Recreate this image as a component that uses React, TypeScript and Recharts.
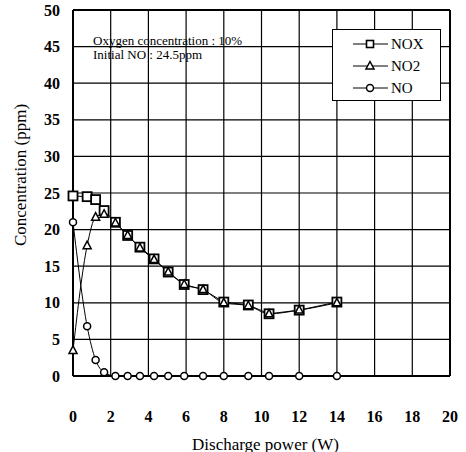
import React from 'react';
import { LineChart, Line, XAxis, YAxis, CartesianGrid, ReferenceLine, Label } from 'recharts';

// discharge power (W)
const POWER = [0, 0.75, 1.2, 1.65, 2.25, 2.9, 3.55, 4.3, 5.05, 5.9, 6.9, 8.0, 9.3, 10.4, 12.0, 14.0];
// concentrations (ppm)
const NOX = [24.6, 24.5, 24.1, 22.6, 21.0, 19.2, 17.6, 16.0, 14.2, 12.5, 11.8, 10.1, 9.7, 8.5, 9.0, 10.1];
const NO2 = [3.5, 17.8, 21.7, 22.1, 20.9, 19.2, 17.5, 15.9, 14.2, 12.5, 11.8, 10.0, 9.6, 8.5, 9.0, 10.0];
const NO = [21.0, 6.8, 2.2, 0.5, 0, 0, 0, 0, 0, 0, 0, 0, 0, 0, 0, 0];

const X_TICKS = [0, 2, 4, 6, 8, 10, 12, 14, 16, 18, 20];
const Y_TICKS = [0, 5, 10, 15, 20, 25, 30, 35, 40, 45, 50];

const data = POWER.map((p, i) => ({ power: p, nox: NOX[i], no2: NO2[i], no: NO[i] }));

const FONT = "'Liberation Serif', 'Times New Roman', Times, 'DejaVu Serif', serif";

const SquareDot = (props: any) => {
  const { cx, cy, index } = props;
  return <rect key={`sq-${index}`} x={cx - 4.5} y={cy - 4.5} width={9} height={9} fill="#fff" stroke="#000" strokeWidth={1.8} />;
};

const TriangleDot = (props: any) => {
  const { cx, cy, index } = props;
  return (
    <polygon
      key={`tr-${index}`}
      points={`${cx},${cy - 4.5} ${cx - 4},${cy + 3} ${cx + 4},${cy + 3}`}
      fill="#fff"
      stroke="#000"
      strokeWidth={1.5}
    />
  );
};

const CircleDot = (props: any) => {
  const { cx, cy, index } = props;
  return <circle key={`ci-${index}`} cx={cx} cy={cy} r={3.5} fill="#fff" stroke="#000" strokeWidth={1.5} />;
};

const LEGEND_ITEMS = [
  { name: 'NOX', marker: 'square' },
  { name: 'NO2', marker: 'triangle' },
  { name: 'NO', marker: 'circle' },
];

const LegendBox = () => (
  <div
    style={{
      position: 'absolute',
      left: 332,
      top: 29,
      width: 107,
      height: 70,
      border: '1.5px solid #000',
      background: '#fff',
      fontFamily: FONT,
      fontSize: 15,
    }}
  >
    {LEGEND_ITEMS.map((item, i) => (
      <div key={item.name} style={{ position: 'absolute', left: 0, top: 4 + i * 22, height: 20, display: 'flex', alignItems: 'center' }}>
        <svg width={58} height={20}>
          <line x1={20} y1={10} x2={55} y2={10} stroke="#000" strokeWidth={1} />
          {item.marker === 'square' && <rect x={33.5} y={6.5} width={7} height={7} fill="#fff" stroke="#000" strokeWidth={1.6} />}
          {item.marker === 'triangle' && <polygon points="37,5.5 33,13 41,13" fill="#fff" stroke="#000" strokeWidth={1.5} />}
          {item.marker === 'circle' && <circle cx={37} cy={10} r={3.5} fill="#fff" stroke="#000" strokeWidth={1.5} />}
        </svg>
        <span style={{ color: '#000' }}>{item.name}</span>
      </div>
    ))}
  </div>
);

export default function App() {
  const tickStyle = { fontFamily: FONT, fontSize: 16, fontWeight: 'bold' as const, fill: '#000' };
  return (
    <div style={{ position: 'absolute', left: 0, top: 0, width: 466, height: 452, background: '#fff', fontFamily: FONT }}>
      <LineChart width={466} height={452} data={data} margin={{ top: 10, right: 16, left: 0, bottom: 0 }} style={{ fontFamily: FONT }}>
        <CartesianGrid stroke="#000" strokeWidth={1.2} horizontalValues={Y_TICKS} verticalValues={X_TICKS} />
        <XAxis
          dataKey="power"
          type="number"
          domain={[0, 20]}
          ticks={X_TICKS}
          height={76}
          tickSize={0}
          tickMargin={35}
          tick={tickStyle}
          axisLine={{ stroke: '#000', strokeWidth: 2 }}
          tickLine={false}
        >
          <Label
            content={({ viewBox }: any) => (
              <text
                x={viewBox.x + viewBox.width / 2 + 4}
                y={viewBox.y + 68}
                textAnchor="middle"
                dominantBaseline="central"
                style={{ fontFamily: FONT, fontSize: 17 }}
                fill="#000"
              >
                Discharge power (W)
              </text>
            )}
          />
        </XAxis>
        <YAxis
          type="number"
          domain={[0, 50]}
          ticks={Y_TICKS}
          width={73}
          tickSize={0}
          tickMargin={13}
          tick={tickStyle}
          axisLine={{ stroke: '#000', strokeWidth: 2 }}
          tickLine={false}
        >
          <Label
            content={({ viewBox }: any) => {
              const cx = 20;
              const cy = viewBox.y + viewBox.height / 2 - 18;
              return (
                <text
                  x={cx}
                  y={cy}
                  transform={`rotate(-90, ${cx}, ${cy})`}
                  textAnchor="middle"
                  dominantBaseline="central"
                  style={{ fontFamily: FONT, fontSize: 17 }}
                  fill="#000"
                >
                  Concentration (ppm)
                </text>
              );
            }}
          />
        </YAxis>
        <ReferenceLine y={50} stroke="#000" strokeWidth={2} />
        <ReferenceLine x={20} stroke="#000" strokeWidth={2} />
        <Line dataKey="no" name="NO" type="monotone" stroke="#000" strokeWidth={1} dot={CircleDot} isAnimationActive={false} />
        <Line dataKey="nox" name="NOX" type="linear" stroke="#000" strokeWidth={1} dot={SquareDot} isAnimationActive={false} />
        <Line dataKey="no2" name="NO2" type="monotone" stroke="#000" strokeWidth={1} dot={TriangleDot} isAnimationActive={false} />
      </LineChart>
      <LegendBox />
      <div
        style={{
          position: 'absolute',
          left: 93,
          top: 34,
          fontFamily: FONT,
          fontSize: 13,
          lineHeight: '14px',
          color: '#000',
          whiteSpace: 'nowrap',
        }}
      >
        <div>Oxygen concentration : 10%</div>
        <div>Initial NO : 24.5ppm</div>
      </div>
    </div>
  );
}
